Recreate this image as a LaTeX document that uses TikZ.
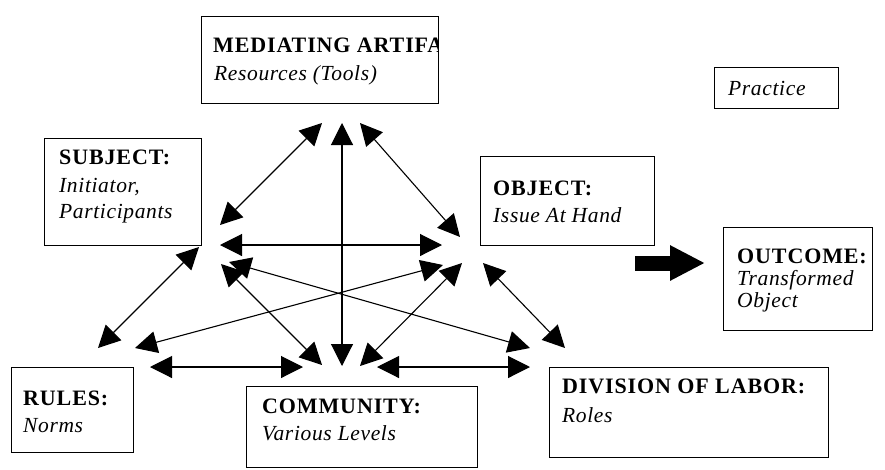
\documentclass[tikz,border=0pt]{standalone}
\usepackage{fontspec}
\setmainfont{Liberation Serif}
\newfontfamily\hdfont[LetterSpace=4]{Liberation Serif}
\newfontfamily\itfont[LetterSpace=3]{Liberation Serif}
\usetikzlibrary{arrows.meta}
\begin{document}
\begin{tikzpicture}[x=1pt,y=-1pt,
  box/.style={draw=black,line width=1.4pt,inner sep=0pt,anchor=north west},
  hd/.style={anchor=base west,inner sep=0pt,font=\hdfont\fontsize{22}{25}\selectfont\bfseries},
  it/.style={anchor=base west,inner sep=0pt,font=\itfont\fontsize{21.5}{25}\selectfont\itshape},
  link/.style={line width=1.1pt,{Triangle[length=22pt,width=22pt]}-{Triangle[length=22pt,width=22pt]}},
  bigarrow/.style={line width=15pt,-{Triangle[length=35pt,width=33pt]}}]
\useasboundingbox (0,0) rectangle (885,469);
% boxes
\node[box,minimum width=237pt,minimum height=87pt] (med) at (201,16) {};
\node[box,minimum width=157pt,minimum height=107pt] (subj) at (44,138) {};
\node[box,minimum width=174pt,minimum height=89pt] (obj) at (480,156) {};
\node[box,minimum width=124pt,minimum height=41pt] (prac) at (714,67) {};
\node[box,minimum width=149pt,minimum height=103pt] (outc) at (723,227) {};
\node[box,minimum width=122pt,minimum height=85pt] (rules) at (11,367) {};
\node[box,minimum width=231pt,minimum height=81pt] (comm) at (246,386) {};
\node[box,minimum width=279pt,minimum height=90pt] (div) at (549,367) {};
% texts
\begin{scope}
\clip (201,16) rectangle (438,103);
\node[hd] (medh) at (213,52) {MEDIATING ARTIFACT:};
\end{scope}
\node[it] (medt) at (214,80) {Resources (Tools)};
\node[hd] (subjh) at (59,164) {SUBJECT:};
\node[it] (subjt1) at (59,192) {Initiator,};
\node[it] (subjt2) at (59,218) {Participants};
\node[hd] (objh) at (493,195) {OBJECT:};
\node[it] (objt) at (493,222) {Issue At Hand};
\node[it] (pract) at (728,95) {Practice};
\node[hd] (outch) at (737,263) {OUTCOME:};
\node[it] (outct1) at (737,285) {Transformed};
\node[it] (outct2) at (737,307) {Object};
\node[hd] (rulesh) at (23,405) {RULES:};
\node[it] (rulest) at (23,432) {Norms};
\node[hd] (commh) at (262,413) {COMMUNITY:};
\node[it] (commt) at (262,440) {Various Levels};
\node[hd] (divh) at (562,393) {DIVISION OF LABOR:};
\node[it] (divt) at (562,422) {Roles};
% arrow end points
\coordinate (a1s) at (220,225); \coordinate (a1m) at (322,123);
\coordinate (v1) at (342,123); \coordinate (v2) at (342,366);
\coordinate (a3m) at (360,123); \coordinate (a3o) at (460,237);
\coordinate (hs) at (220,245); \coordinate (ho) at (442,245);
\coordinate (sr1) at (199,247); \coordinate (sr2) at (98,348);
\coordinate (cs) at (221,264); \coordinate (cc) at (322,365);
\coordinate (ds) at (229,262); \coordinate (dd) at (530,348);
\coordinate (ro1) at (135,348); \coordinate (ro2) at (443,265);
\coordinate (oc1) at (462,263); \coordinate (oc2) at (360,366);
\coordinate (od1) at (483,263); \coordinate (od2) at (565,348);
\coordinate (rc1) at (150,367); \coordinate (rc2) at (303,367);
\coordinate (cd1) at (377,367); \coordinate (cd2) at (530,367);
\coordinate (ba1) at (635,263); \coordinate (ba2) at (705,263);
% connectors
\draw[link] (a1s) -- (a1m);
\draw[link] (v1) -- (v2);
\draw[link] (a3m) -- (a3o);
\draw[link] (hs) -- (ho);
\draw[link] (sr1) -- (sr2);
\draw[link] (cs) -- (cc);
\draw[link] (ds) -- (dd);
\draw[link] (ro1) -- (ro2);
\draw[link] (oc1) -- (oc2);
\draw[link] (od1) -- (od2);
\draw[link] (rc1) -- (rc2);
\draw[link] (cd1) -- (cd2);
\draw[bigarrow] (ba1) -- (ba2);
\end{tikzpicture}
\end{document}
